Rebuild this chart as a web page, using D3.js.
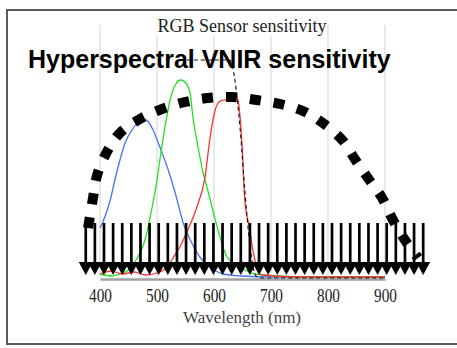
<!DOCTYPE html>
<html>
<head>
<meta charset="utf-8">
<script src="https://cdn.jsdelivr.net/npm/d3@7"></script>
<style>
  html, body { margin: 0; padding: 0; background: #fff; }
  svg { display: block; }
</style>
</head>
<body>
<div id="root"></div>
<script>
// tick labels of the wavelength axis
const xTicks = [400, 500, 600, 700, 800, 900]

// RGB sensor responses (wavelength nm -> relative sensitivity)
const blueWavelengths = [400, 405, 418, 426, 435, 444, 456, 470, 481, 493, 505, 518, 532, 546, 561, 575, 593, 616, 650, 700, 800, 900]
const blueValues = [0.25, 0.28, 0.39, 0.49, 0.59, 0.675, 0.74, 0.785, 0.79, 0.74, 0.655, 0.555, 0.425, 0.275, 0.175, 0.105, 0.055, 0.02, 0.01, 0.005, 0.005, 0.005]

const greenWavelengths = [400, 420, 435, 450, 461, 470, 479, 488, 500, 505, 514, 523, 532, 542, 549, 558, 563, 572, 581, 588, 596, 607, 623, 646, 672, 750, 900]
const greenValues = [0.02, 0.01, 0.02, 0.04, 0.08, 0.125, 0.19, 0.305, 0.49, 0.59, 0.755, 0.89, 0.965, 0.99, 0.98, 0.925, 0.805, 0.655, 0.525, 0.45, 0.36, 0.24, 0.105, 0.055, 0.02, 0.005, 0.005]

const redWavelengths = [400, 420, 440, 460, 480, 505, 518, 528, 540, 554, 570, 584, 593, 602, 611, 619, 628, 637, 642, 649, 654, 663, 668, 675, 684, 750, 900]
const redValues = [0.02, 0.035, 0.02, 0.03, 0.015, 0.03, 0.055, 0.1, 0.155, 0.24, 0.355, 0.5, 0.7, 0.84, 0.885, 0.89, 0.905, 0.92, 0.89, 0.675, 0.39, 0.24, 0.14, 0.055, 0.015, 0.005, 0.005]

// IR cut filter (thin dashed)
const filterWavelengths = [540, 628, 633, 639, 646, 654, 661, 667, 674, 684, 900]
const filterValues = [1.09, 1.09, 1.05, 0.94, 0.74, 0.44, 0.215, 0.08, 0.01, 0, 0]

// hyperspectral VNIR envelope (thick dotted arc)
const vnirWavelengths = [379, 388, 395, 412, 435, 470, 509, 549, 589, 632, 675, 716, 756, 791, 825, 847, 870, 895, 914, 935, 958]
const vnirValues = [0.25, 0.405, 0.515, 0.63, 0.725, 0.795, 0.845, 0.88, 0.9, 0.905, 0.89, 0.87, 0.835, 0.775, 0.69, 0.595, 0.5, 0.4, 0.29, 0.19, 0.1]

// hyperspectral band centres
const bandWavelengths = [375, 391, 407, 423, 439, 455, 471, 487, 503, 519, 535, 551, 567, 583, 599, 615, 631, 647, 663, 679, 695, 711, 727, 743, 759, 775, 791, 807, 823, 839, 855, 871, 887, 903, 919, 935, 951, 967]

const WIDTH = 457
const HEIGHT = 348

const PLOT_LEFT = 100
const PLOT_RIGHT = 385
const PLOT_BOTTOM = 278
const PLOT_TOP_VALUE = 78
const GRID_TOP = 25

const BAND_TOP = 0.275
const BAND_BASE = 0.08
const ARROW_TIP = 0.015
const ARROW_HALF = 7

const svg = d3.select('#root')
    .append('svg')
    .attr('width', WIDTH)
    .attr('height', HEIGHT)

const xScale = d3.scaleLinear()
    .domain([400, 900])
    .range([PLOT_LEFT, PLOT_RIGHT])

const yScale = d3.scaleLinear()
    .domain([0, 1])
    .range([PLOT_BOTTOM, PLOT_TOP_VALUE])

// outer frame
svg.append('rect')
    .attr('x', 7)
    .attr('y', 10)
    .attr('width', 470)
    .attr('height', 334)
    .attr('fill', 'none')
    .attr('stroke', '#5a5a5a')
    .attr('stroke-width', 2)

// vertical gridlines
svg.append('g')
    .selectAll('line')
    .data(xTicks)
    .enter()
    .append('line')
    .attr('x1', d => xScale(d))
    .attr('x2', d => xScale(d))
    .attr('y1', GRID_TOP)
    .attr('y2', PLOT_BOTTOM)
    .attr('stroke', '#dadada')
    .attr('stroke-width', 1.2)

// title (white box hides the grid behind it)
svg.append('rect')
    .attr('x', 154)
    .attr('y', 12)
    .attr('width', 172)
    .attr('height', 24)
    .attr('fill', '#fff')

svg.append('text')
    .attr('x', 242)
    .attr('y', 32)
    .attr('text-anchor', 'middle')
    .style('font-family', '"Liberation Serif", serif')
    .style('font-size', '18px')
    .attr('fill', '#222')
    .text('RGB Sensor sensitivity')

// x axis
const xAxis = d3.axisBottom(xScale)
    .tickValues(xTicks)
    .tickSize(0)
    .tickPadding(10)
    .tickFormat(d3.format('d'))

const axisG = svg.append('g')
    .attr('transform', `translate(0,${PLOT_BOTTOM + 1})`)
    .call(xAxis)

axisG.select('.domain')
    .attr('stroke', '#a0a0a0')
    .attr('stroke-width', 2.5)

axisG.selectAll('text')
    .style('font-family', '"Liberation Serif", serif')
    .style('font-size', '18px')
    .attr('fill', '#222')
    .attr('transform', 'scale(0.85,1)')

svg.append('text')
    .attr('x', 242)
    .attr('y', 323)
    .attr('text-anchor', 'middle')
    .style('font-family', '"Liberation Serif", serif')
    .style('font-size', '17px')
    .attr('fill', '#444')
    .text('Wavelength (nm)')

// sensor curves
const line = d3.line()
    .x(d => xScale(d[0]))
    .y(d => yScale(d[1]))
    .curve(d3.curveMonotoneX)

const curves = [
    {w: blueWavelengths, v: blueValues, color: '#4a72f0'},
    {w: greenWavelengths, v: greenValues, color: '#22e022'},
    {w: redWavelengths, v: redValues, color: '#ff3030'}
]

svg.append('g')
    .selectAll('path')
    .data(curves)
    .enter()
    .append('path')
    .attr('d', c => line(d3.zip(c.w, c.v)))
    .attr('fill', 'none')
    .attr('stroke', c => c.color)
    .attr('stroke-width', 1.3)

svg.append('path')
    .attr('d', line(d3.zip(filterWavelengths, filterValues)))
    .attr('fill', 'none')
    .attr('stroke', '#111')
    .attr('stroke-width', 1.1)
    .attr('stroke-dasharray', '4,3')

// hyperspectral bands: vertical bars ending in arrowheads
const bands = svg.append('g')

bands.selectAll('line')
    .data(bandWavelengths)
    .enter()
    .append('line')
    .attr('x1', d => xScale(d))
    .attr('x2', d => xScale(d))
    .attr('y1', yScale(BAND_TOP))
    .attr('y2', yScale(BAND_BASE))
    .attr('stroke', '#000')
    .attr('stroke-width', 2.7)

bands.selectAll('path')
    .data(bandWavelengths)
    .enter()
    .append('path')
    .attr('d', d => {
        const x = xScale(d)
        const top = yScale(BAND_BASE)
        const tip = yScale(ARROW_TIP)
        return `M${x - ARROW_HALF},${top}L${x + ARROW_HALF},${top}L${x},${tip}Z`
    })
    .attr('fill', '#000')

// VNIR envelope
svg.append('path')
    .attr('d', d3.line()
        .x(d => xScale(d[0]))
        .y(d => yScale(d[1]))
        .curve(d3.curveCatmullRom)(d3.zip(vnirWavelengths, vnirValues)))
    .attr('fill', 'none')
    .attr('stroke', '#000')
    .attr('stroke-width', 10)
    .attr('stroke-dasharray', '11,13')

svg.append('text')
    .attr('x', 28)
    .attr('y', 68)
    .style('font-family', '"Liberation Sans", Arial, sans-serif')
    .style('font-size', '25px')
    .style('font-weight', 'bold')
    .attr('fill', '#000')
    .text('Hyperspectral VNIR sensitivity')
</script>
</body>
</html>
